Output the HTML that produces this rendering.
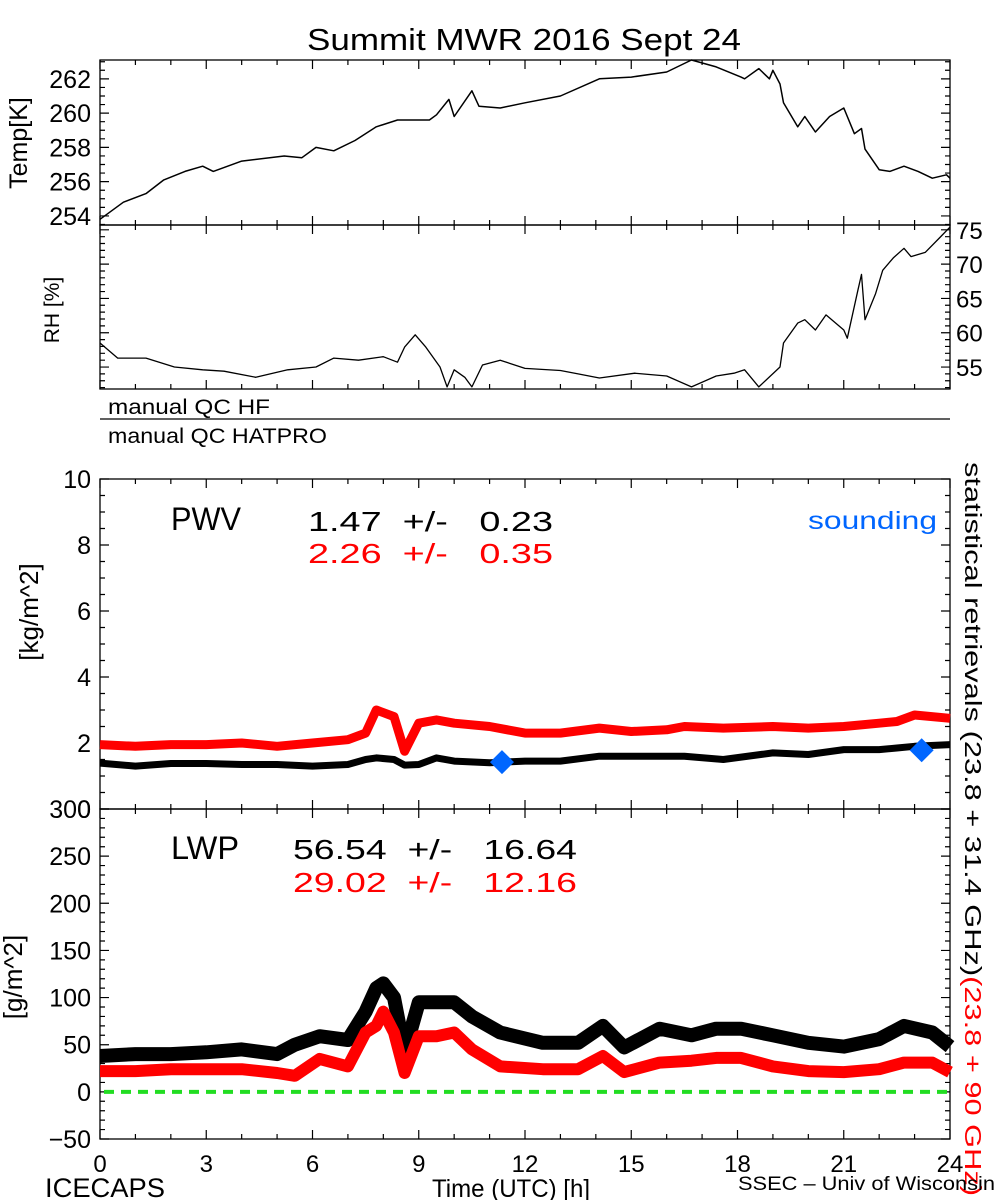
<!DOCTYPE html>
<html><head><meta charset="utf-8"><style>
html,body{margin:0;padding:0;background:#fff;}
svg{display:block;font-family:"Liberation Sans",sans-serif;}
</style></head><body>
<svg id="chart" width="1000" height="1200" viewBox="0 0 1000 1200" xmlns="http://www.w3.org/2000/svg">
<text x="307" y="50" font-size="31" textLength="434" lengthAdjust="spacingAndGlyphs">Summit MWR 2016 Sept 24</text>
<g id="axes"></g>
<g id="marks"></g>
<text transform="translate(27,143) rotate(-90)" font-size="25" text-anchor="middle">Temp[K]</text>
<text transform="translate(59,310) rotate(-90)" font-size="21" text-anchor="middle">RH [%]</text>
<text x="108" y="414" font-size="21" textLength="162" lengthAdjust="spacingAndGlyphs">manual QC HF</text>
<line x1="100" y1="419" x2="950" y2="419" stroke="#000" stroke-width="1.3"/>
<text x="108" y="443" font-size="21" textLength="219" lengthAdjust="spacingAndGlyphs">manual QC HATPRO</text>
<text transform="translate(38,612) rotate(-90)" font-size="26" text-anchor="middle">[kg/m^2]</text>
<text transform="translate(22,977) rotate(-90)" font-size="26" text-anchor="middle">[g/m^2]</text>
<text x="171" y="530" font-size="32" textLength="70" lengthAdjust="spacingAndGlyphs">PWV</text>
<text x="308" y="531" font-size="28" xml:space="preserve" textLength="245" lengthAdjust="spacingAndGlyphs">1.47  +/-   0.23</text>
<text x="308" y="563" font-size="28" fill="#ff0000" xml:space="preserve" textLength="245" lengthAdjust="spacingAndGlyphs">2.26  +/-   0.35</text>
<text x="808" y="529" font-size="25" fill="#0066ff" textLength="129" lengthAdjust="spacingAndGlyphs">sounding</text>
<text x="171" y="859" font-size="32" textLength="68" lengthAdjust="spacingAndGlyphs">LWP</text>
<text x="293" y="859" font-size="28" xml:space="preserve" textLength="284" lengthAdjust="spacingAndGlyphs">56.54  +/-   16.64</text>
<text x="293" y="892" font-size="28" fill="#ff0000" xml:space="preserve" textLength="284" lengthAdjust="spacingAndGlyphs">29.02  +/-   12.16</text>
<text transform="translate(965,462) rotate(90)" font-size="23" textLength="734" lengthAdjust="spacingAndGlyphs"><tspan fill="#000">statistical  retrievals  (23.8 + 31.4 GHz)</tspan><tspan fill="#ff0000">(23.8 + 90 GHz)</tspan></text>
<text x="45" y="1197" font-size="27" textLength="120" lengthAdjust="spacingAndGlyphs">ICECAPS</text>
<text x="432" y="1197" font-size="25" textLength="158" lengthAdjust="spacingAndGlyphs">Time (UTC) [h]</text>
<text x="738" y="1190" font-size="19" textLength="257" lengthAdjust="spacingAndGlyphs">SSEC – Univ of Wisconsin</text>
</svg>
<script>
// ---- data ----
const tempTimes=[0,0.66,1.3,1.8,2.4,2.9,3.2,4.0,5.2,5.7,6.1,6.6,7.2,7.8,8.4,9.3,9.5,9.85,10.0,10.5,10.7,11.3,12,13,14.1,15,16,16.7,17.4,18.1,18.2,18.6,18.9,19.0,19.2,19.3,19.7,19.9,20.2,20.6,21.0,21.3,21.5,21.6,22.0,22.3,22.7,23.1,23.5,23.9,24];
const tempValues=[253.8,254.8,255.3,256.1,256.6,256.9,256.6,257.2,257.5,257.4,258.0,257.8,258.4,259.2,259.6,259.6,259.9,260.8,259.8,261.3,260.4,260.3,260.6,261.0,262.0,262.1,262.4,263.1,262.7,262.1,262.0,262.6,262.0,262.5,261.7,260.6,259.2,259.8,258.9,259.8,260.3,258.8,259.1,257.9,256.7,256.6,256.9,256.6,256.2,256.4,256.2];
const rhTimes=[0,0.5,1.3,2.1,2.9,3.5,4.4,5.3,6.1,6.6,7.3,8.0,8.4,8.6,8.9,9.2,9.6,9.8,10.0,10.3,10.5,10.8,11.3,12,13,13.5,14.1,15.1,16,16.7,17.4,17.9,18.2,18.6,19.2,19.3,19.7,19.9,20.2,20.5,21.0,21.1,21.4,21.5,21.6,21.9,22.1,22.4,22.7,22.9,23.3,23.7,24];
const rhValues=[58.5,56.3,56.3,55.0,54.6,54.4,53.5,54.6,55.0,56.3,56.0,56.5,55.7,57.9,59.7,57.9,55.0,52.1,54.6,53.5,52.1,55.3,56.0,54.8,54.5,54.0,53.4,54.1,53.7,52.1,53.7,54.1,54.6,52.1,55.0,58.5,61.4,61.9,60.4,62.6,60.4,59.2,66.2,68.5,61.9,65.7,69.1,70.9,72.3,71.1,71.7,73.8,75.4];
const pwvTimes=[0,1,2,3,4,5,6,7,7.5,7.8,8.3,8.6,9.0,9.5,10,11,12,13,14.1,15,16,16.5,17.6,19,20,21,22,22.5,23,24];
const pwvBlack=[1.39,1.3,1.38,1.38,1.35,1.35,1.3,1.35,1.5,1.55,1.5,1.33,1.35,1.55,1.45,1.4,1.45,1.45,1.6,1.6,1.6,1.6,1.5,1.7,1.65,1.8,1.8,1.85,1.9,1.95];
const pwvRed=[1.95,1.9,1.95,1.95,2.0,1.9,2.0,2.1,2.3,3.0,2.8,1.75,2.6,2.7,2.6,2.5,2.3,2.3,2.45,2.35,2.4,2.5,2.45,2.5,2.45,2.5,2.6,2.65,2.85,2.75];
const soundingTimes=[11.35,23.2];
const soundingValues=[1.42,1.78];
const lwpTimes=[0,1,2,3,4,5,5.5,6.2,7,7.5,7.8,8.0,8.3,8.6,9.0,9.5,10,10.5,11.3,12.5,13.5,14.2,14.8,15.8,16.7,17.4,18.1,19,20,21,22,22.7,23.5,24];
const lwpBlack=[38,40,40,42,45,40,50,59,55,85,110,115,100,42,95,95,95,80,63,52,52,70,47,67,60,67,67,60,52,48,56,70,63,48];
const lwpRed=[22,22,24,24,24,20,17,35,27,63,70,85,63,20,59,59,63,45,27,24,24,38,21,31,33,36,36,27,22,21,24,31,31,21];
const xTickLabels=["0","3","6","9","12","15","18","21","24"];
const tempTicks=[254,256,258,260,262];
const rhTicks=[55,60,65,70,75];
const pwvTicks=[0,2,4,6,8,10];
const lwpTicks=[-50,0,50,100,150,200,250,300];

// ---- axes ----
const X0=100,X1=950;
const xs=h=>X0+(X1-X0)*h/24;
function lin(d0,d1,p0,p1){return v=>p0+(v-d0)*(p1-p0)/(d1-d0);}
const yT=lin(253.47,263.1,225,60), yR=lin(51.8,75.7,389,225), yP=lin(0,10,809,479), yL=lin(-50,300,1139,809);
const NS="http://www.w3.org/2000/svg";
const axes=document.getElementById('axes'), marks=document.getElementById('marks');
function el(tag,attrs,parent,txt){const e=document.createElementNS(NS,tag);for(const k in attrs)e.setAttribute(k,attrs[k]);if(txt!==undefined)e.textContent=txt;parent.appendChild(e);return e;}

function panel(name,top,bot,ys,d0,d1,major,minor,ticks,labelSide){
  const r=el('rect',{x:X0,y:top,width:X1-X0,height:bot-top,fill:'none',stroke:'#000','stroke-width':1.3},axes);
  
  
  let d='';
  for(let h=0;h<=24;h++){const x=xs(h),L=(h%3===0)?9:5;d+=`M${x},${bot}v${-L}M${x},${top}v${L}`;}
  for(let v=Math.ceil(d0/minor)*minor;v<=d1+1e-9;v+=minor){const y=ys(v);const isM=Math.abs(v/major-Math.round(v/major))<1e-6;const L=isM?9:5;d+=`M${X0},${y}h${L}M${X1},${y}h${-L}`;}
  const p=el('path',{d:d,stroke:'#000','stroke-width':1.2,fill:'none'},axes);
  
  
  if(labelSide){ticks.forEach(v=>{
    const t=el('text',{x:labelSide==='left'?91:956,y:ys(v)+9,'font-size':labelSide==='left'?25:24,'text-anchor':labelSide==='left'?'end':'start'},axes,String(v).replace('-','\u2212'));
    
    
  });}
}
panel('temp',60,225,yT,253.47,263.1,2,0.5,tempTicks,'left');
panel('rh',225,389,yR,51.8,75.7,5,1,rhTicks,'right');
panel('pwv',479,809,yP,0,10,2,0.5,pwvTicks,'left');
panel('lwp',809,1139,yL,-50,300,50,10,lwpTicks,'left');
xTickLabels.forEach(s=>{
  const t=el('text',{x:xs(+s),y:1172,'font-size':24,'text-anchor':'middle'},axes,s);
  
  
});

// ---- marks ----
function line(name,times,vals,ys,color,w){
  const pts=times.map((t,i)=>xs(t).toFixed(1)+','+ys(vals[i]).toFixed(1)).join(' ');
  const p=el('polyline',{points:pts,fill:'none',stroke:color,'stroke-width':w,'stroke-linejoin':'round','stroke-linecap':'butt'},marks);
  
  
}
line('temp-series',tempTimes,tempValues,yT,'#000',1.5);
line('rh-series',rhTimes,rhValues,yR,'#000',1.3);
line('pwv-red-series',pwvTimes,pwvRed,yP,'#ff0000',9);
line('pwv-black-series',pwvTimes,pwvBlack,yP,'#000',7);
line('lwp-black-series',lwpTimes,lwpBlack,yL,'#000',14);
line('lwp-red-series',lwpTimes,lwpRed,yL,'#ff0000',12);
const z=el('line',{x1:X0+4,x2:X1,y1:yL(0),y2:yL(0),stroke:'#22dd22','stroke-width':4,'stroke-dasharray':'10,7'},marks);


soundingTimes.forEach((t,i)=>{
  const x=xs(t),y=yP(soundingValues[i]);
  const d=el('polygon',{points:`${x},${y-12} ${x+12},${y} ${x},${y+12} ${x-12},${y}`,fill:'#0066ff'},marks);
  
  
});
</script>
</body></html>
